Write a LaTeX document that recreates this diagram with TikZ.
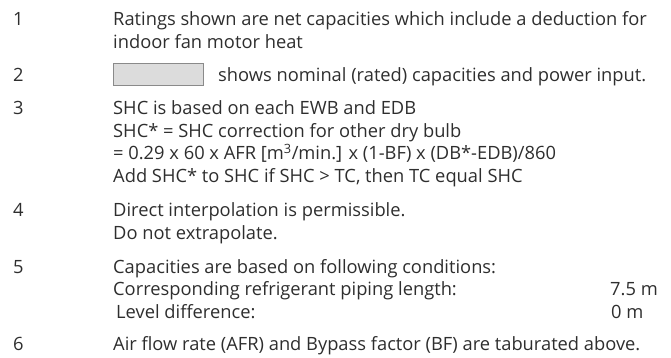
\documentclass[tikz,border=0pt]{standalone}
\usepackage{fontspec}
\setmainfont{Open Sans}
\definecolor{txt}{HTML}{2E2E2E}
\definecolor{boxfill}{HTML}{DCDCDC}
\definecolor{boxline}{HTML}{8A8A8A}
\newcommand{\fsz}{\fontsize{18.3}{22}\selectfont}
\begin{document}
\begin{tikzpicture}[x=1pt,y=-1pt,
  ln/.style={anchor=base west, inner sep=0pt, text=txt, font=\fsz},
  swatch/.style={draw=boxline, fill=boxfill, line width=0.8pt, inner sep=0pt}]
\useasboundingbox (0,0) rectangle (671,358);
% item 1
\node[ln] (n1) at (13,26) {1};
\node[ln] (t1a) at (113,26) {Ratings shown are net capacities which include a deduction for};
\node[ln] (t1b) at (113,48.5) {indoor fan motor heat};
% item 2
\node[ln] (n2) at (13,82) {2};
\draw[swatch] (113,63.5) rectangle (203,85) node[coordinate] (sw) {};
\node[ln] (t2) at (218,82) {shows nominal (rated) capacities and power input.};
% item 3
\node[ln] (n3) at (13,115) {3};
\node[ln] (t3a) at (113,115) {SHC is based on each EWB and EDB};
\node[ln] (t3b) at (113,137.5) {SHC* = SHC correction for other dry bulb};
\node[ln] (t3c) at (113,160) {= 0.29 x 60 x AFR [m\textsuperscript{3}/min.] x (1-BF) x (DB*-EDB)/860};
\node[ln] (t3d) at (113,182.5) {Add SHC* to SHC if SHC > TC, then TC equal SHC};
% item 4
\node[ln] (n4) at (13,216.5) {4};
\node[ln] (t4a) at (113,216.5) {Direct interpolation is permissible.};
\node[ln] (t4b) at (113,239) {Do not extrapolate.};
% item 5
\node[ln] (n5) at (13,273) {5};
\node[ln] (t5a) at (113,273) {Capacities are based on following conditions:};
\node[ln] (t5b) at (113,295.5) {Corresponding refrigerant piping length:};
\node[ln] (v5b) at (610,295.5) {7.5 m};
\node[ln] (t5c) at (116,318) {Level difference:};
\node[ln] (v5c) at (611,318) {0 m};
% item 6
\node[ln] (n6) at (13,350.5) {6};
\node[ln] (t6) at (113,350.5) {Air flow rate (AFR) and Bypass factor (BF) are taburated above.};
\end{tikzpicture}
\end{document}
